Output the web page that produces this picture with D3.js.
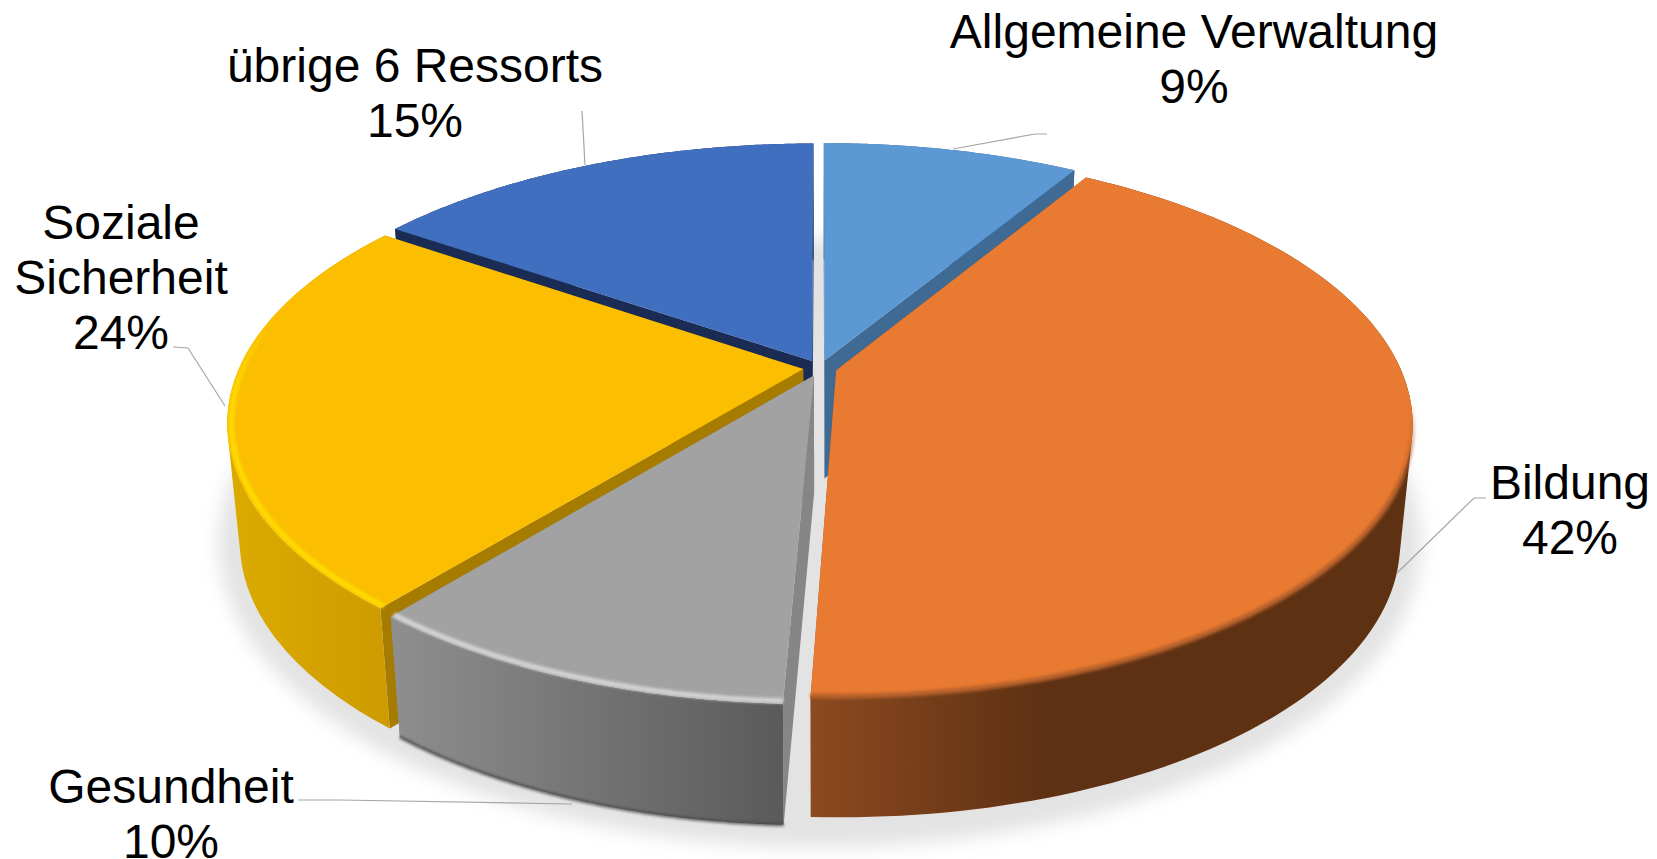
<!DOCTYPE html>
<html>
<head>
<meta charset="utf-8">
<script src="https://cdnjs.cloudflare.com/ajax/libs/d3/7.8.5/d3.min.js"></script>
<style>
  body { margin: 0; background: #fff; }
  text { font-family: "Liberation Sans", Arial, sans-serif; font-size: 48px; fill: #000; text-anchor: middle; }
</style>
</head>
<body>
<div id="pie"></div>
<script>
// data, clockwise from 12 o'clock
var labels = [["Allgemeine Verwaltung"], ["Bildung"], ["Gesundheit"], ["Soziale", "Sicherheit"], ["übrige 6 Ressorts"]];
var shares = [8.7, 41.97, 10.23, 23.65, 15.45];
var percentLabels = ["9%", "42%", "10%", "24%", "15%"];

// styles per slice
var topColors = ["#5b98d4", "#e97a31", "#a2a2a2", "#fbbe00", "#416fbf"];
var faceColors = ["#3f6a94", "#a0551f", "#868686", "#a67c00", "#1a2c54"];
var wallLeft = ["#3f6a94", "#8c4a20", "#8e8e8e", "#dbaa00", "#1a2c54"];
var wallRight = ["#3f6a94", "#5f3113", "#5a5a5a", "#cd9b00", "#1a2c54"];
var rimColors = [null, "#b5602a", "#d4d4d4", "#ffdc00", null];
var rimRadius = [1, 1, 0.993, 0.993, 1];
var rimFadeY = [null, [400, 490], [0, 1], [320, 390], null];
var baseColors = [null, null, "#444444", null, null];

// label layout: centre x, first baseline, then leader polyline
var labelX = [1194, 1570, 171, 121, 415];
var labelY = [48, 499, 803, 239, 82];
var leaders = [
  [[953, 149], [1035, 134], [1047, 134]],
  [[1397, 573], [1474, 498], [1486, 498]],
  [[572, 804], [340, 800], [298, 800]],
  [[225, 406], [188, 348], [173, 347]],
  [[585, 165], [582, 111]]
];

var width = 1657, height = 859;
var persp = 0.193, explode = 0.03;

var svg = d3.select("#pie").append("svg")
  .attr("width", width)
  .attr("height", height)
  .style("display", "block");

var defs = svg.append("defs");
defs.append("filter").attr("id", "soft")
  .attr("x", "-10%").attr("y", "-10%").attr("width", "120%").attr("height", "120%")
  .append("feGaussianBlur").attr("stdDeviation", 9);
defs.append("filter").attr("id", "rim")
  .attr("filterUnits", "userSpaceOnUse")
  .attr("x", 0).attr("y", 0).attr("width", width).attr("height", height)
  .append("feGaussianBlur").attr("stdDeviation", 1.6);

// the three planes of the cylinder: top face, bottom face, floor shadow
var topX = d3.scaleLinear().domain([-1, 1]).range([820 - 564, 820 + 564]);
var topY = d3.scaleLinear().domain([-1, 1]).range([368 - 262, 368 + 262]);
var baseX = d3.scaleLinear().domain([-1, 1]).range([820 - 552, 820 + 552]);
var baseY = d3.scaleLinear().domain([-1, 1]).range([486 - 264.5, 486 + 264.5]);
var floorX = d3.scaleLinear().domain([-1, 1]).range([820 - 590, 820 + 590]);
var floorY = d3.scaleLinear().domain([-1, 1]).range([484 - 293, 484 + 293]);

function project(plane, u, v) {
  var s = 1 / (1 - persp * v);
  return [plane.x(u * s), plane.y(v * s)];
}
var topPlane = { x: topX, y: topY };
var basePlane = { x: baseX, y: baseY };
var floorPlane = { x: floorX, y: floorY };

var line = d3.line();

var slices = d3.pie().sort(null).value(function(d) { return d; })(shares);

function offset(d) {
  var mid = (d.startAngle + d.endAngle) / 2;
  return [explode * Math.sin(mid), -explode * Math.cos(mid)];
}
function rimPoint(plane, d, a, r) {
  var o = offset(d);
  r = r || 1;
  return project(plane, r * Math.sin(a) + o[0], -r * Math.cos(a) + o[1]);
}
function arcPoints(plane, d, a0, a1, r) {
  return d3.range(0, 121).map(function(i) {
    return rimPoint(plane, d, a0 + (a1 - a0) * i / 120, r);
  });
}
function apex(plane, d) {
  var o = offset(d);
  return project(plane, o[0], o[1]);
}

// floor shadow
var floorPoints = d3.range(0, 241).map(function(i) {
  var a = i / 240 * 2 * Math.PI;
  return project(floorPlane, Math.sin(a), -Math.cos(a));
});
svg.append("path")
  .attr("d", line(floorPoints) + "Z")
  .attr("fill", "#e3e3e3")
  .attr("filter", "url(#soft)");

// back to front so each slice hides the cut faces behind it
var order = [0, 4, 3, 2, 1];

order.forEach(function(i) {
  var d = slices[i];
  var g = svg.append("g");

  var grad = defs.append("linearGradient").attr("id", "wall" + i)
    .attr("gradientUnits", "userSpaceOnUse");
  var wallEnds = { 1: [811, 1040], 2: [395, 785], 3: [235, 395] }[i] || [0, width];
  grad.attr("x1", wallEnds[0]).attr("x2", wallEnds[1]).attr("y1", 0).attr("y2", 0);
  grad.append("stop").attr("offset", "0%").attr("stop-color", wallLeft[i]);
  grad.append("stop").attr("offset", "100%").attr("stop-color", wallRight[i]);

  // cut faces
  [d.startAngle, d.endAngle].forEach(function(a) {
    g.append("path")
      .attr("d", line([apex(topPlane, d), rimPoint(topPlane, d, a), rimPoint(basePlane, d, a), apex(basePlane, d)]) + "Z")
      .attr("fill", faceColors[i]);
  });

  // outer wall: one strip of quads so the silhouette runs tangent to both rims
  // all quads wound the same way, else they cancel out where they overlap
  var topArc = arcPoints(topPlane, d, d.startAngle, d.endAngle);
  var baseArc = arcPoints(basePlane, d, d.startAngle, d.endAngle);
  var strip = "";
  d3.range(0, 120).forEach(function(k) {
    var quad = [topArc[k], topArc[k + 1], baseArc[k + 1], baseArc[k]];
    if (d3.polygonArea(quad) < 0) quad.reverse();
    strip += line(quad) + "Z";
  });
  g.append("path")
    .attr("d", strip)
    .attr("fill", "url(#wall" + i + ")");

  if (baseColors[i]) {
    g.append("path")
      .attr("d", line(baseArc))
      .attr("fill", "none")
      .attr("stroke", baseColors[i])
      .attr("stroke-width", 2.5)
      .attr("filter", "url(#rim)");
  }

  // top surface
  g.append("path")
    .attr("d", line([apex(topPlane, d)].concat(topArc)) + "Z")
    .attr("fill", topColors[i]);

  // bevel along the front of the rim, fading in towards the back
  if (rimColors[i]) {
    var fade = defs.append("linearGradient").attr("id", "rimFade" + i)
      .attr("gradientUnits", "userSpaceOnUse")
      .attr("x1", 0).attr("x2", 0)
      .attr("y1", rimFadeY[i][0]).attr("y2", rimFadeY[i][1]);
    fade.append("stop").attr("offset", "0%").attr("stop-color", rimColors[i]).attr("stop-opacity", 0);
    fade.append("stop").attr("offset", "100%").attr("stop-color", rimColors[i]).attr("stop-opacity", 1);

    g.append("path")
      .attr("d", line(arcPoints(topPlane, d, d.startAngle, d.endAngle, rimRadius[i])))
      .attr("fill", "none")
      .attr("stroke", "url(#rimFade" + i + ")")
      .attr("stroke-width", 5)
      .attr("filter", "url(#rim)");
  }
});

// leader lines
svg.selectAll(".leader").data(leaders).enter().append("path")
  .attr("class", "leader")
  .attr("d", function(d) { return line(d); })
  .attr("fill", "none")
  .attr("stroke", "#a6a6a6")
  .attr("stroke-width", 1.2);

// data labels
labels.forEach(function(lines, i) {
  lines.concat([percentLabels[i]]).forEach(function(txt, k) {
    svg.append("text")
      .attr("x", labelX[i])
      .attr("y", labelY[i] + k * 55)
      .text(txt);
  });
});
</script>
</body>
</html>
